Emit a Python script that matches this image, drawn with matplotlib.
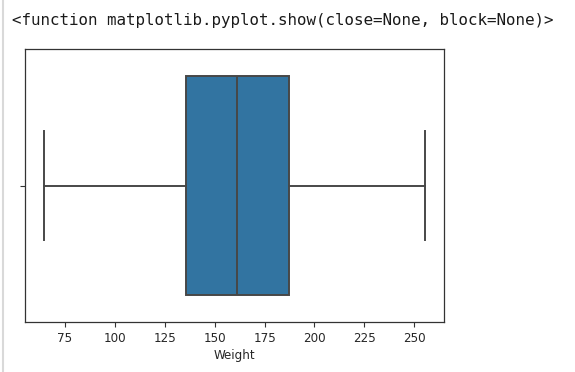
import matplotlib
matplotlib.use("Agg")
import matplotlib.pyplot as plt
from matplotlib.lines import Line2D

stat_names = ["whislo", "q1", "med", "q3", "whishi"]
weight_stats = [64.6, 135.5, 161.2, 187.3, 255.3]
x_ticks = [75, 100, 125, 150, 175, 200, 225, 250]
x_label = "Weight"
header_text = "<function matplotlib.pyplot.show(close=None, block=None)>"

W, H = 575, 372
fig = plt.figure(figsize=(W / 100, H / 100), dpi=100)

# Jupyter output border line on the left
fig.add_artist(Line2D([3 / W, 3 / W], [0, 1], transform=fig.transFigure,
                      color="#d9d9d9", linewidth=1.5))

fig.text(12 / W, 1 - 21 / H, header_text, family="DejaVu Sans Mono",
         fontsize=11.4, va="center", ha="left", color="#1a1a1a")

left, right, top, bottom = 25, 444, 49, 322
ax = fig.add_axes([left / W, 1 - bottom / H, (right - left) / W, (bottom - top) / H])

stats = dict(zip(stat_names, weight_stats))
stats["fliers"] = []
line_color = "#474747"
ax.bxp([stats], positions=[0], widths=0.8, vert=False, patch_artist=True,
       showfliers=False, capwidths=0.4,
       boxprops=dict(facecolor="#3274a1", edgecolor=line_color, linewidth=1.4),
       medianprops=dict(color=line_color, linewidth=1.4),
       whiskerprops=dict(color=line_color, linewidth=1.4),
       capprops=dict(color=line_color, linewidth=1.4))

ax.set_ylim(0.5, -0.5)
ax.set_yticks([0])
ax.set_yticklabels([""])
ax.margins(x=0.05)
ax.set_xticks(x_ticks)
ax.set_xticklabels([str(t) for t in x_ticks])
ax.tick_params(axis="both", labelsize=8.6, length=3.5, color="#333333",
               labelcolor="#262626", pad=3.5)
ax.set_xlabel(x_label, fontsize=8.6, color="#262626", labelpad=3)
for s in ax.spines.values():
    s.set_color("#333333")
    s.set_linewidth(0.9)

fig.savefig("out.png", dpi=100)
